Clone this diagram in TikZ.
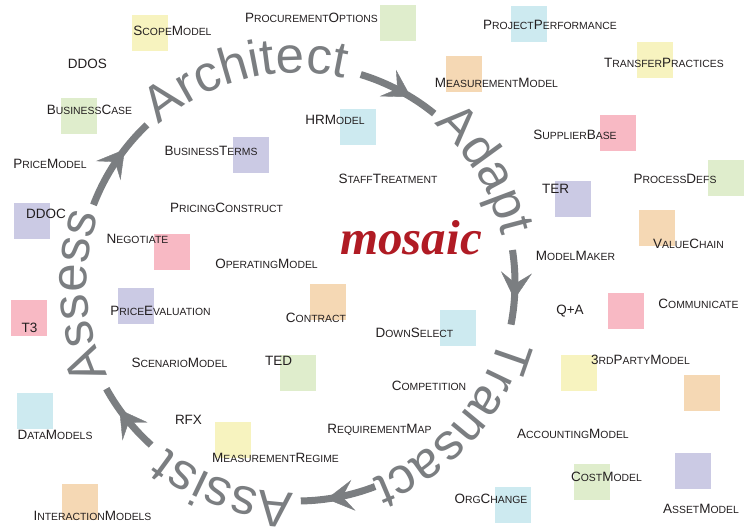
\documentclass[tikz,border=0pt]{standalone}
\usepackage{fontspec}
\setmainfont{Liberation Sans}
\newfontfamily\brandfont{Liberation Serif}
\usetikzlibrary{decorations.text,decorations.markings,arrows.meta}

\definecolor{ringgray}{HTML}{7B7E81}
\definecolor{inkdark}{HTML}{231F20}
\definecolor{brandred}{HTML}{B01B24}
\definecolor{tileyellow}{HTML}{F7F3BF}
\definecolor{tilegreen}{HTML}{DFEDCC}
\definecolor{tileblue}{HTML}{CDEAF0}
\definecolor{tileorange}{HTML}{F5D8B4}
\definecolor{tilepink}{HTML}{F8B9C4}
\definecolor{tilelilac}{HTML}{CBCAE4}

% lower-case part of a term, set as small capitals
\newcommand\lc[1]{{\fontsize{10.4}{12}\selectfont\MakeUppercase{#1}}}

\tikzset{
  tile/.style={fill=#1, draw=none, minimum size=36pt, inner sep=0pt, anchor=north west},
  term/.style={font=\fontsize{13.5}{16}\selectfont, text=inkdark, inner sep=0pt, anchor=base},
  ringword/.style={decorate, decoration={text along path, text align=center,
      text={|\fontsize{51}{60}\selectfont\color{ringgray}|#1}}},
  ringarrow/.style={color=ringgray, line width=7pt, postaction={decorate},
      decoration={markings, mark=at position 0.66 with
        {\arrow{Stealth[length=27pt,width=31pt,inset=11pt,line width=0.4pt,color=ringgray]}}}},
}

\begin{document}
\begin{tikzpicture}[x=1pt, y=-1pt]
\useasboundingbox (0,0) rectangle (747,531);
\fill[white] (0,0) rectangle (747,531);

% coloured tiles
\node[tile=tileyellow] (t-scope)   at (132,15)  {};
\node[tile=tilegreen]  (t-bcase)   at (61,98)   {};
\node[tile=tilelilac]  (t-bterms)  at (233,137) {};
\node[tile=tilegreen]  (t-proc)    at (380,5)   {};
\node[tile=tileorange] (t-measm)   at (446,56)  {};
\node[tile=tileblue]   (t-hr)      at (340,109) {};
\node[tile=tileblue]   (t-projp)   at (511,6)   {};
\node[tile=tileyellow] (t-transf)  at (637,42)  {};
\node[tile=tilepink]   (t-suppl)   at (600,115) {};
\node[tile=tilegreen]  (t-pdefs)   at (708,160) {};
\node[tile=tilelilac]  (t-ddoc)    at (14,203)  {};
\node[tile=tilepink]   (t-negot)   at (154,234) {};
\node[tile=tilelilac]  (t-priceev) at (118,288) {};
\node[tile=tilepink]   (t-t3)      at (11,300)  {};
\node[tile=tileorange] (t-contr)   at (310,284) {};
\node[tile=tileblue]   (t-downs)   at (440,310) {};
\node[tile=tilelilac]  (t-ter)     at (555,181) {};
\node[tile=tileorange] (t-value)   at (639,210) {};
\node[tile=tilepink]   (t-comm)    at (608,293) {};
\node[tile=tileblue]   (t-data)    at (17,393)  {};
\node[tile=tileyellow] (t-mregime) at (215,422) {};
\node[tile=tileorange] (t-inter)   at (62,484)  {};
\node[tile=tilegreen]  (t-ted)     at (280,355) {};
\node[tile=tileblue]   (t-org)     at (495,487) {};
\node[tile=tileyellow] (t-third)   at (561,355) {};
\node[tile=tileorange] (t-spare)   at (684,375) {};
\node[tile=tilegreen]  (t-cost)    at (574,464) {};
\node[tile=tilelilac]  (t-asset)   at (675,453) {};

% terms
\node[term] (scope)   at (172.5,35)  {S\lc{cope}M\lc{odel}};
\node[term] (ddos)    at (87.5,68)   {DDOS};
\node[term] (bcase)   at (89.5,114)  {B\lc{usiness}C\lc{ase}};
\node[term] (pmodel)  at (50,168)    {P\lc{rice}M\lc{odel}};
\node[term] (bterms)  at (211,155)   {B\lc{usiness}T\lc{erms}};
\node[term] (proc)    at (311.5,22)  {P\lc{rocurement}O\lc{ptions}};
\node[term] (measm)   at (496.5,87)  {M\lc{easurement}M\lc{odel}};
\node[term] (hr)      at (335,124)   {HRM\lc{odel}};
\node[term] (staff)   at (388,183)   {S\lc{taff}T\lc{reatment}};
\node[term] (projp)   at (550,29)    {P\lc{roject}P\lc{erformance}};
\node[term] (transf)  at (664,67)    {T\lc{ransfer}P\lc{ractices}};
\node[term] (suppl)   at (575,139)   {S\lc{upplier}B\lc{ase}};
\node[term] (pdefs)   at (675,183)   {P\lc{rocess}D\lc{efs}};
\node[term] (ddoc)    at (46,218)    {DDOC};
\node[term] (pconstr) at (226.5,212) {P\lc{ricing}C\lc{onstruct}};
\node[term] (negot)   at (137.5,243) {N\lc{egotiate}};
\node[term] (opmodel) at (266.5,268) {O\lc{perating}M\lc{odel}};
\node[term] (priceev) at (160.5,315) {P\lc{rice}E\lc{valuation}};
\node[term] (t3)      at (29.5,332)  {T3};
\node[term] (contr)   at (316,322)   {C\lc{ontract}};
\node[term] (downs)   at (414.5,337) {D\lc{own}S\lc{elect}};
\node[term] (ter)     at (555.5,193) {TER};
\node[term] (value)   at (688.5,248) {V\lc{alue}C\lc{hain}};
\node[term] (mmaker)  at (575.5,260) {M\lc{odel}M\lc{aker}};
\node[term] (qa)      at (570,314)   {Q+A};
\node[term] (comm)    at (698.5,308) {C\lc{ommunicate}};
\node[term] (scen)    at (179.5,367) {S\lc{cenario}M\lc{odel}};
\node[term] (data)    at (55,439)    {D\lc{ata}M\lc{odels}};
\node[term] (rfx)     at (188.5,424) {RFX};
\node[term] (mregime) at (275.5,462) {M\lc{easurement}R\lc{egime}};
\node[term] (inter)   at (92.5,520)  {I\lc{nteraction}M\lc{odels}};
\node[term] (ted)     at (278.5,365) {TED};
\node[term] (compet)  at (429,390)   {C\lc{ompetition}};
\node[term] (reqmap)  at (379.5,433) {R\lc{equirement}M\lc{ap}};
\node[term] (org)     at (491,503)   {O\lc{rg}C\lc{hange}};
\node[term] (third)   at (640.5,364) {3\lc{rd}P\lc{arty}M\lc{odel}};
\node[term] (acct)    at (573,438)   {A\lc{ccounting}M\lc{odel}};
\node[term] (cost)    at (606.5,481) {C\lc{ost}M\lc{odel}};
\node[term] (asset)   at (701,513)   {A\lc{sset}M\lc{odel}};

% brand name in the middle
\node[font={\fontsize{49}{55}\brandfont\bfseries\itshape}, text=brandred,
      inner sep=0pt, anchor=base] (brand) at (411,254) {mosaic};

% the cycle: words and arrows running clockwise round one circle
\begin{scope}[shift={(297pt,-283pt)}, x=1pt, y=1pt]
  \path[ringword=Architect] (144:210) arc[start angle=144, end angle=64, radius=210];
  \path[ringword=Adapt]     (71:210)  arc[start angle=71,  end angle=-9,  radius=210];
  \path[ringword=Transact]  (-2:210)  arc[start angle=-2,  end angle=-82, radius=210];
  \path[ringword=Assist]    (-69.5:210) arc[start angle=-69.5, end angle=-149.5, radius=210];
  \path[ringword=Assess]    (-136.5:210) arc[start angle=-136.5, end angle=-216.5, radius=210];

  \draw[ringarrow] (73:218)   arc[start angle=73,   end angle=51,   radius=218];
  \draw[ringarrow] (8.7:218)  arc[start angle=8.7,  end angle=-11,  radius=218];
  \draw[ringarrow] (-69:218)  arc[start angle=-69,  end angle=-89,  radius=218];
  \draw[ringarrow] (-132:218) arc[start angle=-132, end angle=-151, radius=218];
  \draw[ringarrow] (159:218)  arc[start angle=159,  end angle=133.5, radius=218];
\end{scope}
\end{tikzpicture}
\end{document}
